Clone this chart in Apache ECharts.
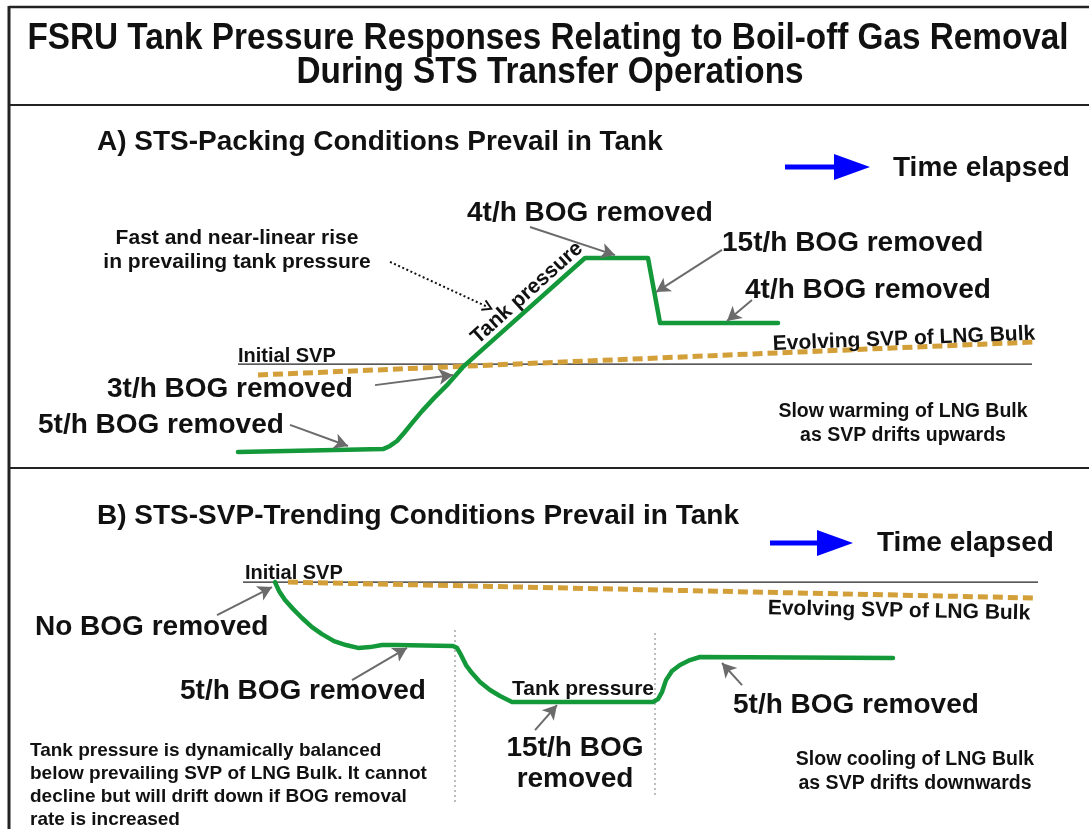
<!DOCTYPE html>
<html>
<head>
<meta charset="utf-8">
<script src="https://cdn.jsdelivr.net/npm/echarts@6/dist/echarts.min.js"></script>
<style>
html,body{margin:0;padding:0;background:#fff;}
#chart{width:1089px;height:829px;}
</style>
</head>
<body>
<div id="chart"></div>
<script>
// time elapsed (0-100) vs tank pressure (0-100), arbitrary units
var tankPressureA = [[20,3.1],[34.5,4.2],[35.2,5.4],[35.9,7.3],[36.6,10.4],[37.4,14.2],[38.4,18.8],[39.6,23.8],[41,29.2],[42.5,35.8],[54.7,77.7],[61,77.7],[62.2,52.7],[74,52.7]];
var initialSvpA = [[20,36.9],[99.4,36.9]];
var evolvingSvpA = [[22,32.7],[99.7,45.4]];

var tankPressureB = [[23.7,91.5],[24.1,88.1],[24.7,84.6],[25.5,81.2],[26.4,77.7],[27.4,74.2],[28.4,71.5],[29.6,68.8],[30.8,67.3],[32,66.2],[33.2,66.5],[34.4,67.3],[35.7,67.3],[41.5,66.9],[41.9,66.2],[42.3,63.5],[42.8,59.6],[43.4,56.5],[44.2,53.1],[45.2,50],[46.2,47.7],[47.4,45.4],[61.5,45.4],[62,46.5],[62.4,49.2],[62.8,53.8],[63.4,57.3],[64.2,59.6],[65.2,61.5],[66.2,62.7],[85.5,62.3]];
var initialSvpB = [[20.5,91.5],[100,91.5]];
var evolvingSvpB = [[25,91.5],[99.5,85.4]];
var phaseMarksB = [41.7, 61.7];

// annotation arrows: [from, to]
var arrowsA = [
	[[49.2,89.6],[57.7,78.8]],
	[[68.4,80.8],[61.8,64.6]],
	[[71.4,61.5],[68.9,53.5]],
	[[33.7,28.8],[41.5,32.7]],
	[[25.2,13.5],[31,5.4]]
];
var dottedArrowA = [[35.2,76.2],[45,58.8]];
var arrowsB = [
	[[17.9,78.8],[23.4,89.6]],
	[[31.4,53.8],[36.9,66.2]],
	[[49.7,34.6],[51.9,44.2]],
	[[70.4,51.9],[68.4,60.4]]
];

var GREEN = '#13993a';
var GOLD = '#d39f38';
var GREY = '#6b6b6b';
var FONT = 'Liberation Sans, Arial, sans-serif';

function arrowLines(list){
	var out = [];
	list.forEach(function(a){
		out.push([{coord:a[0],symbol:'none'},{coord:a[1],symbol:'arrow',symbolSize:[12,14]}]);
	});
	return out;
}

function txt(s, x, y, size, align, rot){
	return {
		type:'text', x:x, y:y, rotation:rot||0, z:100,
		style:{text:s, fill:'#111', font:'bold '+size+'px '+FONT,
			textAlign:align||'left', textVerticalAlign:'middle'}
	};
}
function hline(x1,y1,x2,y2,w,c){
	return {type:'line', z:50, shape:{x1:x1,y1:y1,x2:x2,y2:y2}, style:{stroke:c||'#222', lineWidth:w}};
}
function blueArrow(x1,x2,y){
	return [
		{type:'line', z:50, shape:{x1:x1,y1:y,x2:x2-30,y2:y}, style:{stroke:'#0000ff', lineWidth:5}},
		{type:'polygon', z:50, shape:{points:[[x2-36,y-13],[x2,y],[x2-36,y+13]]}, style:{fill:'#0000ff'}}
	];
}

var chart = echarts.init(document.getElementById('chart'));

// title: narrow bold look
var title1 = txt('FSRU Tank Pressure Responses Relating to Boil-off Gas Removal', 548, 39, 37, 'center');
title1.scaleX = 0.9;
var title2 = txt('During STS Transfer Operations', 550, 73, 37, 'center');
title2.scaleX = 0.9;

var graphics = [
	hline(9,7,1089,7,2.5),
	hline(9,6,9,829,3),
	hline(9,105,1089,105,2),
	hline(9,468,1089,468,2),
	title1, title2,

	txt('A) STS-Packing Conditions Prevail in Tank', 97, 142, 28),
	txt('Time elapsed', 893, 168, 28),
	txt('4t/h BOG removed', 467, 213, 28),
	txt('Fast and near-linear rise', 237, 238, 21, 'center'),
	txt('in prevailing tank pressure', 237, 262, 21, 'center'),
	txt('15t/h BOG removed', 722, 243, 28),
	txt('4t/h BOG removed', 745, 290, 28),
	txt('Tank pressure', 527, 293, 21, 'center', 0.73),
	txt('Evolving SVP of LNG Bulk', 904, 339, 21, 'center', 0.04),
	txt('Initial SVP', 238, 356, 20),
	txt('3t/h BOG removed', 107, 389, 28),
	txt('5t/h BOG removed', 38, 425, 28),
	txt('Slow warming of LNG Bulk', 903, 412, 19.5, 'center'),
	txt('as SVP drifts upwards', 903, 436, 19.5, 'center'),

	txt('B) STS-SVP-Trending Conditions Prevail in Tank', 97, 516, 28),
	txt('Time elapsed', 877, 543, 28),
	txt('Initial SVP', 245, 573, 20),
	txt('No BOG removed', 35, 627, 28),
	txt('Evolving SVP of LNG Bulk', 899, 611, 21, 'center', -0.02),
	txt('5t/h BOG removed', 180, 691, 28),
	txt('Tank pressure', 512, 689, 21),
	txt('5t/h BOG removed', 733, 705, 28),
	txt('15t/h BOG', 575, 748, 28, 'center'),
	txt('removed', 575, 779, 28, 'center'),
	txt('Slow cooling of LNG Bulk', 915, 760, 19.5, 'center'),
	txt('as SVP drifts downwards', 915, 784, 19.5, 'center'),
	txt('Tank pressure is dynamically balanced', 30, 751, 19),
	txt('below prevailing SVP of LNG Bulk. It cannot', 30, 774, 19),
	txt('decline but will drift down if BOG removal', 30, 797, 19),
	txt('rate is increased', 30, 820, 19)
].concat(blueArrow(785,870,167), blueArrow(770,853,543));

var phaseSeries = phaseMarksB.map(function(t, i){
	var tops = [73.1, 71.9], bots = [5.8, 9.6];
	return {
		type:'line', xAxisIndex:1, yAxisIndex:1, symbol:'none', silent:true, z:1,
		data:[[t, tops[i]],[t, bots[i]]],
		lineStyle:{color:'#9a9a9a', width:1.3, type:[2,3]}
	};
});

option = {
	animation:false,
	grid:[
		{left:38, top:200, width:1000, height:260},
		{left:38, top:560, width:1000, height:260}
	],
	xAxis:[
		{type:'value', gridIndex:0, min:0, max:100, show:false},
		{type:'value', gridIndex:1, min:0, max:100, show:false}
	],
	yAxis:[
		{type:'value', gridIndex:0, min:0, max:100, show:false},
		{type:'value', gridIndex:1, min:0, max:100, show:false}
	],
	graphic:graphics,
	series:[
		{type:'line', xAxisIndex:0, yAxisIndex:0, data:initialSvpA, symbol:'none', silent:true, z:2,
			lineStyle:{color:'#222', width:1.2}},
		{type:'line', xAxisIndex:0, yAxisIndex:0, data:evolvingSvpA, symbol:'none', silent:true, z:3,
			lineStyle:{color:GOLD, width:5, type:[10,5]}},
		{type:'line', xAxisIndex:0, yAxisIndex:0, data:tankPressureA, symbol:'none', silent:true, z:4,
			lineStyle:{color:GREEN, width:4.5, join:'round', cap:'round'}},
		{type:'line', xAxisIndex:0, yAxisIndex:0, data:[], silent:true, z:5,
			markLine:{silent:true, label:{show:false}, lineStyle:{color:GREY, width:2, type:'solid'},
				data:arrowLines(arrowsA)}},
		{type:'line', xAxisIndex:0, yAxisIndex:0, data:[], silent:true, z:5,
			markLine:{silent:true, label:{show:false}, lineStyle:{color:'#111', width:2, type:[2,2.5]},
				data:[[{coord:dottedArrowA[0],symbol:'none'},
					{coord:dottedArrowA[1],symbol:'path://M5,0 L10,9 L8.6,9.8 L5,3.2 L1.4,9.8 L0,9 Z',symbolSize:[12,11]}]]}},

		{type:'line', xAxisIndex:1, yAxisIndex:1, data:initialSvpB, symbol:'none', silent:true, z:2,
			lineStyle:{color:'#222', width:1.2}},
		{type:'line', xAxisIndex:1, yAxisIndex:1, data:evolvingSvpB, symbol:'none', silent:true, z:3,
			lineStyle:{color:GOLD, width:5, type:[10,5]}},
		{type:'line', xAxisIndex:1, yAxisIndex:1, data:tankPressureB, symbol:'none', silent:true, z:4,
			lineStyle:{color:GREEN, width:4.5, join:'round', cap:'round'}},
		{type:'line', xAxisIndex:1, yAxisIndex:1, data:[], silent:true, z:5,
			markLine:{silent:true, label:{show:false}, lineStyle:{color:GREY, width:2, type:'solid'},
				data:arrowLines(arrowsB)}}
	].concat(phaseSeries)
};
chart.setOption(option);
</script>
</body>
</html>
